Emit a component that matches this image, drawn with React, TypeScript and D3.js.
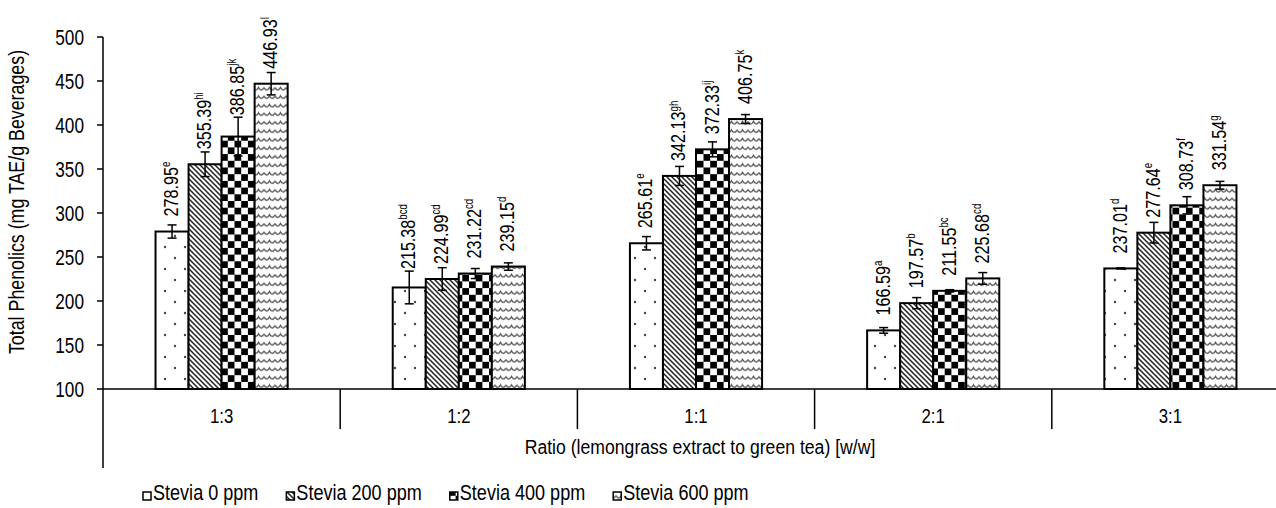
import React, { useLayoutEffect, useRef } from "react";
import * as d3 from "d3";

const categories = ["1:3", "1:2", "1:1", "2:1", "3:1"];
const seriesNames = ["Stevia 0 ppm", "Stevia 200 ppm", "Stevia 400 ppm", "Stevia 600 ppm"];
const stevia0 = [278.95, 215.38, 265.61, 166.59, 237.01];
const stevia200 = [355.39, 224.99, 342.13, 197.57, 277.64];
const stevia400 = [386.85, 231.22, 372.33, 211.55, 308.73];
const stevia600 = [446.93, 239.15, 406.75, 225.68, 331.54];
const err0 = [7.5, 18.6, 7.6, 3.2, 0.6];
const err200 = [14, 12.9, 10.8, 6.3, 11.7];
const err400 = [22, 5.7, 8.5, 1.3, 9.8];
const err600 = [12.7, 4.2, 5.1, 6.6, 4.4];
const sup0 = ["e", "bcd", "e", "a", "d"];
const sup200 = ["hi", "cd", "gh", "b", "e"];
const sup400 = ["jk", "cd", "ij", "bc", "f"];
const sup600 = ["l", "d", "k", "cd", "g"];
const yTicks = [100, 150, 200, 250, 300, 350, 400, 450, 500];

const values = [stevia0, stevia200, stevia400, stevia600];
const errors = [err0, err200, err400, err600];
const sups = [sup0, sup200, sup400, sup600];
const patternIds = ["pDots", "pDiag", "pCheck", "pWave"];

const FONT = "'Liberation Sans', Arial, sans-serif";

export default function App() {
  const W = 1276, H = 508;
  const left = 103, catW = 237.2;
  const y = d3.scaleLinear().domain([100, 500]).range([389, 37]);
  const x0 = d3.scaleBand<string>().domain(categories).range([left, left + catW * categories.length]).padding(0);
  const x1 = d3.scaleBand<number>().domain([0, 1, 2, 3]).range([0, x0.bandwidth()]).paddingInner(0).paddingOuter(1.59);
  const bw = x1.bandwidth();
  const baseY = y(100);
  const legendRef = useRef<SVGGElement>(null);

  const hText = (x: number, yy: number, s: string, anchor: string, fs: number, c: number) => (
    <text transform={`translate(${x},${yy}) scale(${c},1)`} textAnchor={anchor} fontSize={fs} fontFamily={FONT} fill="#000">{s}</text>
  );

  useLayoutEffect(() => {
    const g = d3.select(legendRef.current);
    g.selectAll("*").remove();
    const LF = 21.5, LC = 0.84;
    let lx = 143;
    seriesNames.forEach((n, i) => {
      g.append("rect").attr("x", lx).attr("y", 492).attr("width", 8).attr("height", 8)
        .attr("fill", `url(#${patternIds[i]})`).attr("stroke", "#000").attr("stroke-width", 1.5);
      const t = g.append("text")
        .attr("transform", `translate(${lx + 10},500) scale(${LC},1)`)
        .attr("font-size", LF).attr("font-family", FONT).attr("fill", "#000").text(n);
      const w = (t.node() as SVGTextElement).getComputedTextLength() * LC;
      lx = lx + 10 + w + 28;
    });
  }, []);

  const TF = 21.5, TC = 0.8;
  const LBF = 21, LBC = 0.77;

  return (
    <svg width={W} height={H} style={{ position: "absolute", left: 0, top: 0, background: "#fff" }}>
      <defs>
        <pattern id="pDots" patternUnits="userSpaceOnUse" width="20" height="22">
          <rect width="20" height="22" fill="#fff" />
          <circle cx="5" cy="5" r="1.2" fill="#444" />
          <circle cx="15" cy="16" r="1.2" fill="#444" />
        </pattern>
        <pattern id="pDiag" patternUnits="userSpaceOnUse" width="5" height="5">
          <rect width="5" height="5" fill="#fff" />
          <path d="M-1,-1 L6,6 M-1,4 L1,6 M4,-1 L6,1" stroke="#222" strokeWidth="1.5" />
        </pattern>
        <pattern id="pCheck" patternUnits="userSpaceOnUse" width="13.4" height="13.4">
          <rect width="13.4" height="13.4" fill="#fff" />
          <rect x="0" y="0" width="6.7" height="6.7" fill="#000" />
          <rect x="6.7" y="6.7" width="6.7" height="6.7" fill="#000" />
        </pattern>
        <pattern id="pWave" patternUnits="userSpaceOnUse" width="11" height="8.5">
          <rect width="11" height="8.5" fill="#fff" />
          <path d="M0,2.5 Q2.75,7.5 5.5,2.5 Q8.25,7.5 11,2.5" fill="none" stroke="#555" strokeWidth="1.4" />
        </pattern>
      </defs>

      {/* y axis */}
      <line x1={left} x2={left} y1={y(500)} y2={468} stroke="#000" strokeWidth={1.5} />
      {yTicks.map((t) => (
        <g key={t}>
          <line x1={left - 6} x2={left} y1={y(t)} y2={y(t)} stroke="#000" strokeWidth={1.5} />
          {hText(84, y(t) + 8, String(t), "end", TF, TC)}
        </g>
      ))}
      <text transform={`translate(24,202) rotate(-90) scale(0.81,1)`} textAnchor="middle" fontSize={22} fontFamily={FONT}>
        Total Phenolics (mg TAE/g Beverages)
      </text>

      {/* x axis */}
      <line x1={left} x2={W} y1={baseY} y2={baseY} stroke="#000" strokeWidth={1.5} />
      {categories.map((c, i) => (
        <g key={c}>
          {i > 0 && <line x1={x0(c)!} x2={x0(c)!} y1={baseY} y2={429} stroke="#000" strokeWidth={1.5} />}
          {hText(x0(c)! + x0.bandwidth() / 2, 423, c, "middle", 21, 0.8)}
        </g>
      ))}
      {hText(700, 454, "Ratio (lemongrass extract to green tea) [w/w]", "middle", 21, 0.84)}

      {/* bars */}
      {categories.map((c, ci) => (
        <g key={c}>
          {values.map((vals, si) => {
            const bx = x0(c)! + x1(si)!;
            const top = y(vals[ci]);
            const e = errors[si][ci];
            const eTop = y(vals[ci] + e);
            const eBot = y(vals[ci] - e);
            const cx = bx + bw / 2;
            const lblY = Math.min(top - 15, eTop - 2);
            return (
              <g key={si}>
                <rect x={bx} y={top} width={bw} height={baseY - top} fill={`url(#${patternIds[si]})`} stroke="#000" strokeWidth={2} />
                <line x1={cx} x2={cx} y1={eTop} y2={eBot} stroke="#000" strokeWidth={1.5} />
                <line x1={cx - 4.5} x2={cx + 4.5} y1={eTop} y2={eTop} stroke="#000" strokeWidth={1.5} />
                <line x1={cx - 4.5} x2={cx + 4.5} y1={eBot} y2={eBot} stroke="#000" strokeWidth={1.5} />
                <text transform={`translate(${cx + 6},${lblY}) rotate(-90) scale(${LBC},1)`} fontSize={LBF} fontFamily={FONT} textAnchor="start">
                  {vals[ci].toFixed(2)}
                  <tspan fontSize={LBF * 0.6} dy={-LBF * 0.38}>{sups[si][ci]}</tspan>
                </text>
              </g>
            );
          })}
        </g>
      ))}

      {/* legend */}
      <g ref={legendRef} />
    </svg>
  );
}
